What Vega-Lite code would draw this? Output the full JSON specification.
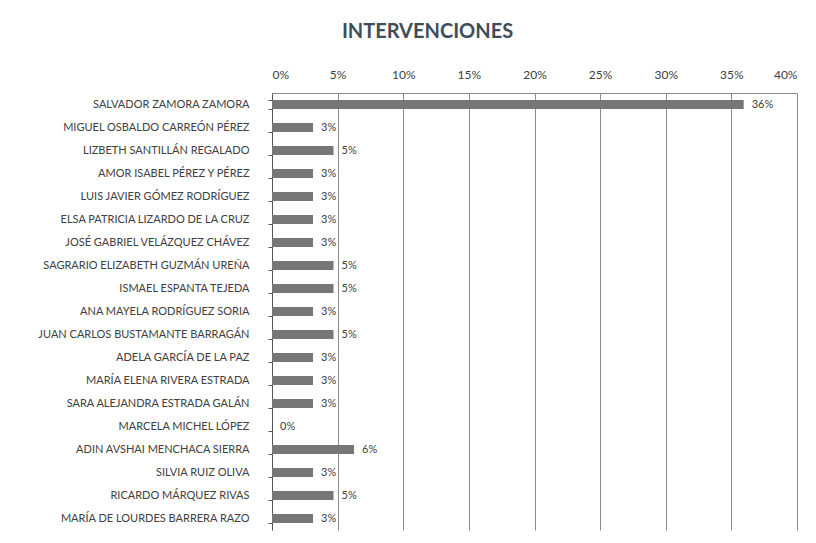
{
  "$schema": "https://vega.github.io/schema/vega-lite/v6.json",
  "autosize": "none",
  "width": 525,
  "height": 437,
  "padding": {"left": 272, "top": 93, "right": 19, "bottom": 13},
  "background": "white",
  "title": {
    "text": "INTERVENCIONES",
    "font": "Lato",
    "fontSize": 20,
    "fontWeight": "bold",
    "color": "#3e4d5a",
    "anchor": "middle",
    "dx": -107,
    "offset": 26
  },
  "data": {
    "values": [
      {"nombre": "SALVADOR ZAMORA ZAMORA", "pct": 0.359375},
      {"nombre": "MIGUEL OSBALDO CARREÓN PÉREZ", "pct": 0.03125},
      {"nombre": "LIZBETH SANTILLÁN REGALADO", "pct": 0.046875},
      {"nombre": "AMOR ISABEL PÉREZ Y PÉREZ", "pct": 0.03125},
      {"nombre": "LUIS JAVIER GÓMEZ RODRÍGUEZ", "pct": 0.03125},
      {"nombre": "ELSA PATRICIA LIZARDO DE LA CRUZ", "pct": 0.03125},
      {"nombre": "JOSÉ GABRIEL VELÁZQUEZ CHÁVEZ", "pct": 0.03125},
      {"nombre": "SAGRARIO ELIZABETH GUZMÁN UREÑA", "pct": 0.046875},
      {"nombre": "ISMAEL ESPANTA TEJEDA", "pct": 0.046875},
      {"nombre": "ANA MAYELA RODRÍGUEZ SORIA", "pct": 0.03125},
      {"nombre": "JUAN CARLOS BUSTAMANTE BARRAGÁN", "pct": 0.046875},
      {"nombre": "ADELA GARCÍA DE LA PAZ", "pct": 0.03125},
      {"nombre": "MARÍA ELENA RIVERA ESTRADA", "pct": 0.03125},
      {"nombre": "SARA ALEJANDRA ESTRADA GALÁN", "pct": 0.03125},
      {"nombre": "MARCELA MICHEL LÓPEZ", "pct": 0},
      {"nombre": "ADIN AVSHAI MENCHACA SIERRA", "pct": 0.0625},
      {"nombre": "SILVIA RUIZ OLIVA", "pct": 0.03125},
      {"nombre": "RICARDO MÁRQUEZ RIVAS", "pct": 0.046875},
      {"nombre": "MARÍA DE LOURDES BARRERA RAZO", "pct": 0.03125}
    ]
  },
  "config": {
    "view": {"stroke": null},
    "font": "Lato"
  },
  "encoding": {
    "y": {
      "field": "nombre",
      "type": "nominal",
      "sort": null,
      "title": null,
      "scale": {"paddingInner": 0.6, "paddingOuter": 0.3},
      "axis": {
        "tickBand": "extent",
        "tickSize": 4,
        "tickColor": "#555555",
        "domainColor": "#555555",
        "labelPadding": 19,
        "labelLimit": 300,
        "labelFont": "Lato",
        "labelFontSize": 11,
        "labelColor": "#404040",
        "grid": false
      }
    },
    "x": {
      "field": "pct",
      "type": "quantitative",
      "title": null,
      "scale": {"domain": [0, 0.4]},
      "axis": {
        "orient": "top",
        "format": "0%",
        "values": [0, 0.05, 0.1, 0.15, 0.2, 0.25, 0.3, 0.35, 0.4],
        "ticks": false,
        "labelPadding": 12,
        "labelFont": "Lato",
        "labelFontSize": 12,
        "labelColor": "#404040",
        "domainColor": "#8a8a8a",
        "grid": true,
        "gridColor": "#8a8a8a",
        "gridOpacity": 1
      }
    }
  },
  "layer": [
    {"mark": {"type": "bar", "color": "#767676"}},
    {
      "mark": {"type": "text", "align": "left", "dx": 8, "font": "Lato", "fontSize": 11, "color": "#404040"},
      "encoding": {"text": {"field": "pct", "type": "quantitative", "format": ".0%"}}
    }
  ]
}
